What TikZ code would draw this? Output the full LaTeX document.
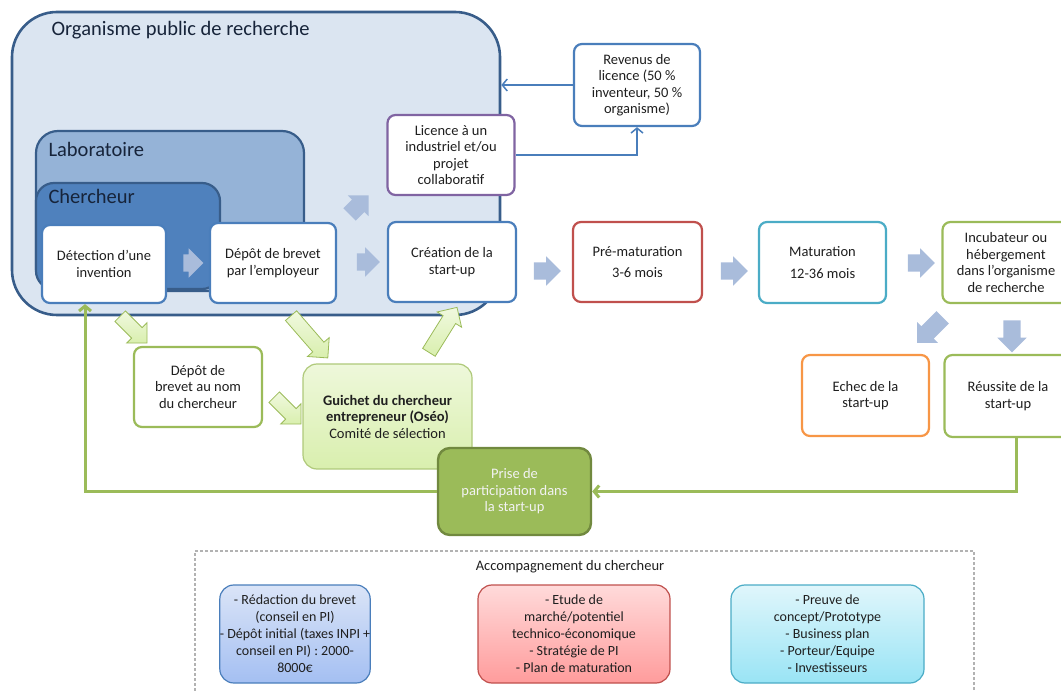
\documentclass[tikz,border=0pt]{standalone}
\usepackage{fontspec}
\setmainfont{Carlito}
\usetikzlibrary{shapes.arrows,arrows.meta}

\definecolor{orgfond}{HTML}{DBE5F1}
\definecolor{orgtrait}{HTML}{385D8A}
\definecolor{labfond}{HTML}{95B3D7}
\definecolor{cherfond}{HTML}{4F81BD}
\definecolor{bleu}{HTML}{4A7EBB}
\definecolor{violet}{HTML}{8064A2}
\definecolor{rouge}{HTML}{C0504D}
\definecolor{turquoise}{HTML}{4BACC6}
\definecolor{vert}{HTML}{9BBB59}
\definecolor{orangef}{HTML}{F79646}
\definecolor{grisbleu}{HTML}{A9BCDB}
\definecolor{vertclair}{HTML}{D9EFAE}
\definecolor{vertfonce}{HTML}{71893F}
\definecolor{texte}{HTML}{1F1F1F}
\definecolor{titrebleu}{HTML}{17243A}
\definecolor{bleuhaut}{HTML}{DAE4F7}
\definecolor{bleubas}{HTML}{A4BFF2}
\definecolor{rougehaut}{HTML}{FFDADA}
\definecolor{rougebas}{HTML}{FF9C9C}
\definecolor{cyanhaut}{HTML}{E0F6FB}
\definecolor{cyanbas}{HTML}{99E4F5}

\begin{document}
\begin{tikzpicture}[x=1pt, y=-1pt, >={Straight Barb[length=5pt,width=12pt]},
    every node/.style={font=\fontsize{14.5}{16.5}\selectfont, align=center, text=texte},
    titre/.style={anchor=west, font=\fontsize{20.5}{22}\selectfont, text=titrebleu},
    etape/.style={rectangle, rounded corners=8pt, draw=#1, line width=2.2pt, fill=white, inner sep=0pt},
    fleche/.style={single arrow, fill=grisbleu, inner xsep=0pt, inner ysep=8.5pt, single arrow head extend=6pt, minimum height=#1},
    flechev/.style={single arrow, top color=vertclair!40, bottom color=vertclair, draw=vert, line width=0.8pt, inner xsep=0pt, inner ysep=7pt, single arrow head extend=7pt, minimum height=#1},
    aide/.style={rectangle, rounded corners=14pt, draw=#1, line width=1.2pt, inner sep=0pt, minimum width=146pt, minimum height=98pt, font=\fontsize{14}{17}\selectfont}]
    \useasboundingbox (0,0) rectangle (1061,692);
    \node[fill=orgfond, draw=orgtrait, line width=2.6pt, rounded corners=45pt, minimum width=488pt, minimum height=303pt] (org) at (256,163.5) {};
    \node[titre] (orgtitre) at (48,30) {Organisme public de recherche};
    \node[fill=labfond, draw=orgtrait, line width=2.2pt, rounded corners=22pt, minimum width=268pt, minimum height=160pt] (labo) at (170,211) {};
    \node[titre] (labotitre) at (45,149) {Laboratoire};
    \node[fill=cherfond, draw=orgtrait, line width=2.2pt, rounded corners=18pt, minimum width=184pt, minimum height=106pt] (cher) at (128,236) {};
    \node[titre] (chertitre) at (45,196) {Chercheur};

    \node[etape=bleu, minimum width=124pt, minimum height=78pt] (det) at (104,264) {Détection d’une\\invention};
    \node[etape=bleu, minimum width=126pt, minimum height=80pt] (dep) at (273,263) {Dépôt de brevet\\par l’employeur};
    \node[etape=bleu, minimum width=128pt, minimum height=80pt] (crea) at (452,262) {Création de la\\start-up};
    \node[etape=violet, minimum width=127pt, minimum height=80pt] (lic) at (451,155) {Licence à un\\industriel et/ou\\projet\\collaboratif};
    \node[etape=bleu, minimum width=126pt, minimum height=82pt] (rev) at (637,85) {Revenus de\\licence (50 \%\\inventeur, 50 \%\\organisme)};
    \node[etape=rouge, minimum width=129pt, minimum height=80pt] (pre) at (637.5,262) {Pré-maturation\\[5pt]3-6 mois};
    \node[etape=turquoise, minimum width=127pt, minimum height=81pt] (mat) at (822.5,262.5) {Maturation\\[5pt]12-36 mois};
    \node[etape=vert, minimum width=127pt, minimum height=81pt] (inc) at (1006,262.5) {Incubateur ou\\hébergement\\dans l’organisme\\de recherche};
    \node[etape=orangef, minimum width=127pt, minimum height=81pt] (ech) at (865.5,395.5) {Echec de la\\start-up};
    \node[etape=vert, minimum width=127pt, minimum height=82pt] (reu) at (1008,396) {Réussite de la\\start-up};
    \node[etape=vert, minimum width=128pt, minimum height=80pt] (depnom) at (198,387) {Dépôt de\\brevet au nom\\du chercheur};
    \node[rectangle, rounded corners=14pt, draw=vert!80, line width=1.2pt, top color=vertclair!45, bottom color=vertclair, inner sep=0pt, minimum width=169pt, minimum height=105pt] (gui) at (387.5,416.5) {\textbf{Guichet du chercheur}\\\textbf{entrepreneur (Oséo)}\\Comité de sélection};
    \node[rectangle, rounded corners=12pt, draw=vertfonce, fill=vert, line width=2.4pt, inner sep=0pt, minimum width=153pt, minimum height=87pt, text=white!95!black] (prise) at (514.5,491.5) {Prise de\\participation dans\\la start-up};

    \node[fleche=20pt] (g1) at (189,263) {};
    \node[fleche=23pt] (g2) at (364,262) {};
    \node[fleche=27pt, rotate=45] (g3) at (356,208) {};
    \node[fleche=27pt] (g4) at (543,271) {};
    \node[fleche=27pt] (g5) at (730,271) {};
    \node[fleche=27pt] (g6) at (917,263) {};
    \node[fleche=36pt, rotate=-135] (g7) at (933,327) {};
    \node[fleche=32pt, rotate=-90] (g8) at (1012,332) {};

    \node[flechev=38pt, rotate=-45] (v1) at (131,327) {};
    \node[flechev=56pt, rotate=-49] (v2) at (307,334) {};
    \node[flechev=38pt, rotate=-45] (v3) at (285,408) {};
    \node[flechev=53pt, rotate=58] (v4) at (441,333) {};

    \draw[->, bleu, line width=1.5pt] (rev.west) -- (rev.west -| org.east);
    \draw[->, bleu, line width=1.5pt] (lic.east) -| (rev.south);
    \coordinate (coin) at (85,491.5);
    \draw[->, vert, line width=3pt] ([xshift=8pt]reu.south) |- (prise.east);
    \draw[->, vert, line width=3pt] (prise.west) -- (coin) -- (coin |- det.south);

    \node[draw=gray!60, densely dashed, line width=1.5pt, minimum width=779pt, minimum height=170pt] (accomp) at (584.5,636) {};
    \node (accomptitre) at (570,567) {Accompagnement du chercheur};
    \node[aide=bleu, top color=bleuhaut, bottom color=bleubas] (b1) at (295,634) {- Rédaction du brevet\\(conseil en PI)\\- Dépôt initial (taxes INPI +\\conseil en PI) : 2000-\\8000€};
    \node[aide=rouge, minimum width=192pt, top color=rougehaut, bottom color=rougebas] (b2) at (574,634) {- Etude de\\marché/potentiel\\technico-économique\\- Stratégie de PI\\- Plan de maturation};
    \node[aide=turquoise, minimum width=193pt, top color=cyanhaut, bottom color=cyanbas] (b3) at (827.5,634) {- Preuve de\\concept/Prototype\\- Business plan\\- Porteur/Equipe\\- Investisseurs};
\end{tikzpicture}
\end{document}
